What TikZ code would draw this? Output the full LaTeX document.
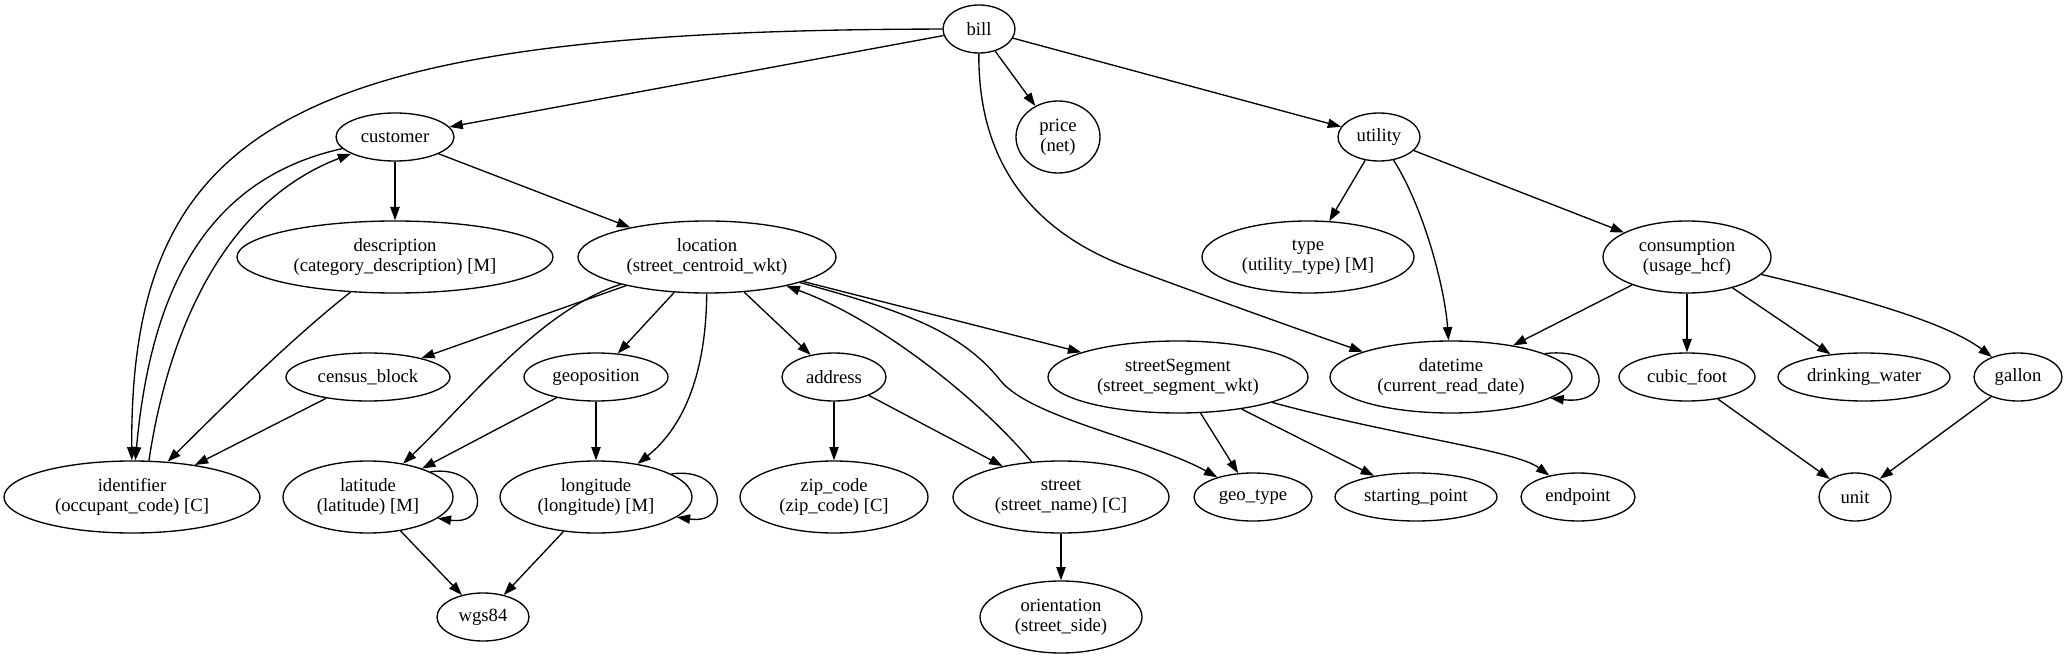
\documentclass[tikz,border=0pt]{standalone}
\usepackage{fontspec}
\setmainfont{Liberation Serif}
\usetikzlibrary{arrows.meta,shapes.geometric}

\begin{document}
\begin{tikzpicture}[
    x=0.75pt, y=-0.75pt,
    ent/.style={ellipse, draw, line width=1pt, inner sep=0pt, align=center, minimum height=36pt, font=\fontsize{14pt}{15pt}\selectfont},
    ent2/.style={ent, minimum height=54pt},
    link/.style={-{Triangle[length=10pt,width=7pt]}, line width=1pt}
]
    \useasboundingbox (0,0) rectangle (2067,659);

    \node[ent, minimum width=54pt] (bill) at (979,29) {bill};
    \node[ent, minimum width=88.5pt] (customer) at (395,137) {customer};
    \node[ent2, minimum width=63pt] (price) at (1058,137) {price\\(net)};
    \node[ent, minimum width=61.5pt] (utility) at (1379,137) {utility};

    \node[ent2, minimum width=237pt] (description) at (395,257) {description\\(category\_description) [M]};
    \node[ent2, minimum width=193.5pt] (location) at (707,257) {location\\(street\_centroid\_wkt)};
    \node[ent2, minimum width=159pt] (type) at (1308,257) {type\\(utility\_type) [M]};
    \node[ent2, minimum width=126pt] (consumption) at (1687,257) {consumption\\(usage\_hcf)};

    \node[ent, minimum width=123pt] (census) at (368,377) {census\_block};
    \node[ent, minimum width=108pt] (geoposition) at (596,377) {geoposition};
    \node[ent, minimum width=78pt] (address) at (834,377) {address};
    \node[ent2, minimum width=195pt] (segment) at (1178,377) {streetSegment\\(street\_segment\_wkt)};
    \node[ent2, minimum width=181.5pt] (datetime) at (1451,377) {datetime\\(current\_read\_date)};
    \node[ent, minimum width=102pt] (cubic) at (1687,377) {cubic\_foot};
    \node[ent, minimum width=129pt] (drinking) at (1864,377) {drinking\_water};
    \node[ent, minimum width=66pt] (gallon) at (2018,377) {gallon};

    \node[ent2, minimum width=192pt] (identifier) at (132,497) {identifier\\(occupant\_code) [C]};
    \node[ent2, minimum width=127.5pt] (latitude) at (368,497) {latitude\\(latitude) [M]};
    \node[ent2, minimum width=144pt] (longitude) at (596,497) {longitude\\(longitude) [M]};
    \node[ent2, minimum width=141pt] (zip) at (834,497) {zip\_code\\(zip\_code) [C]};
    \node[ent2, minimum width=162pt] (street) at (1061,497) {street\\(street\_name) [C]};
    \node[ent, minimum width=88.5pt] (geotype) at (1253,497) {geo\_type};
    \node[ent, minimum width=121.5pt] (startpt) at (1416,497) {starting\_point};
    \node[ent, minimum width=85.5pt] (endpt) at (1578,497) {endpoint};
    \node[ent, minimum width=54pt] (unit) at (1855,497) {unit};

    \node[ent, minimum width=69pt] (wgs) at (483,617) {wgs84};
    \node[ent2, minimum width=121.5pt] (orientation) at (1061,617) {orientation\\(street\_side)};

    \draw[link] (bill) -- (customer);
    \draw[link] (bill) -- (price);
    \draw[link] (bill) -- (utility);
    \draw[link] (bill) .. controls (300,30) and (130,120) .. (identifier);
    \draw[link] (bill) .. controls (978,170) and (1040,235) .. (1130,268)
                       .. controls (1200,294) and (1300,330) .. (datetime.164);

    \draw[link] (customer) -- (description);
    \draw[link] (customer) -- (location);
    \draw[link] (customer) .. controls (200,180) and (150,300) .. (identifier);
    \draw[link] (identifier.65) .. controls (170,320) and (230,200) .. (customer);
    \draw[link] (description) .. controls (290,340) and (230,400) .. (identifier);

    \draw[link] (location) -- (census);
    \draw[link] (location) -- (geoposition);
    \draw[link] (location) -- (address);
    \draw[link] (location) -- (segment);
    \draw[link] (location) .. controls (540,310) and (470,400) .. (latitude);
    \draw[link] (location) .. controls (706,380) and (680,430) .. (longitude);
    \draw[link] (location) .. controls (900,310) and (960,330) .. (1000,380)
                           .. controls (1030,418) and (1150,440) .. (geotype);
    \draw[link] (street) .. controls (980,400) and (880,320) .. (location);

    \draw[link] (census) -- (identifier);
    \draw[link] (geoposition) -- (latitude);
    \draw[link] (geoposition) -- (longitude);
    \draw[link] (address) -- (zip);
    \draw[link] (address) -- (street);
    \draw[link] (street) -- (orientation);
    \draw[link] (latitude) -- (wgs);
    \draw[link] (longitude) -- (wgs);
    \draw[link] (latitude.22) .. controls +(55,-8) and +(55,8) .. (latitude.-17);
    \draw[link] (longitude.17) .. controls +(55,-8) and +(55,8) .. (longitude.-14);

    \draw[link] (segment) -- (geotype);
    \draw[link] (segment) -- (startpt);
    \draw[link] (segment) .. controls (1400,437) and (1515,450) .. (endpt);

    \draw[link] (utility) -- (type);
    \draw[link] (utility) -- (consumption);
    \draw[link] (utility) .. controls (1425,210) and (1445,290) .. (datetime);
    \draw[link] (datetime.14) .. controls +(66,-8) and +(66,8) .. (datetime.-12);

    \draw[link] (consumption) -- (datetime);
    \draw[link] (consumption) -- (cubic);
    \draw[link] (consumption) -- (drinking);
    \draw[link] (consumption) .. controls (1870,300) and (1950,325) .. (gallon);
    \draw[link] (cubic) -- (unit);
    \draw[link] (gallon) -- (unit);
\end{tikzpicture}
\end{document}
